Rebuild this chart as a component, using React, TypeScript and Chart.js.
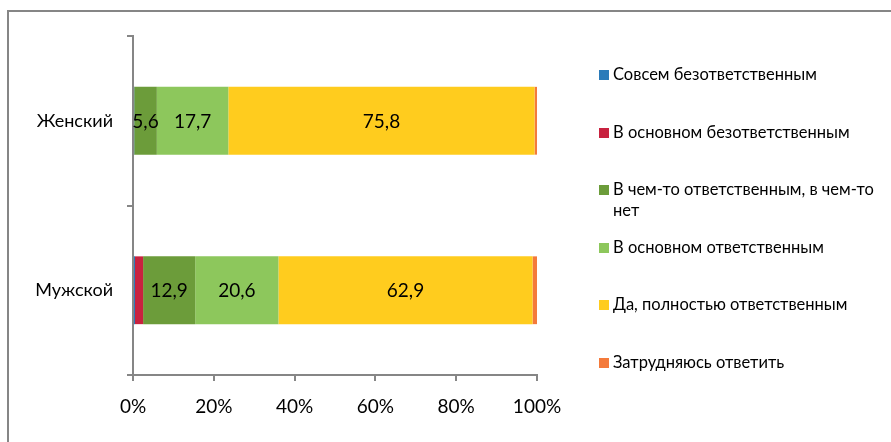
import React, { useEffect, useRef } from "react";
import { Chart, registerables } from "chart.js";

Chart.register(...registerables);

const categories = ["Женский", "Мужской"];
const seriesLabels = [
  "Совсем безответственным",
  "В основном безответственным",
  "В чем-то ответственным, в чем-то\nнет",
  "В основном ответственным",
  "Да, полностью ответственным",
  "Затрудняюсь ответить",
];
const completelyIrresponsible = [0.3, 0.5];
const mostlyIrresponsible = [0.0, 2.0];
const partlyResponsible = [5.6, 12.9];
const mostlyResponsible = [17.7, 20.6];
const fullyResponsible = [75.8, 62.9];
const hardToSay = [0.6, 1.1];
const xTicks = [0, 20, 40, 60, 80, 100];

const seriesValues = [
  completelyIrresponsible,
  mostlyIrresponsible,
  partlyResponsible,
  mostlyResponsible,
  fullyResponsible,
  hardToSay,
];
const colors = ["#2B7BB9", "#C8223F", "#6C9C3A", "#8DC75C", "#FFCC1E", "#F47A3B"];
const labeledSeries = [2, 3, 4];

const FONT = "Lato, 'Open Sans', sans-serif";

const labelPlugin = {
  id: "barLabels",
  afterDatasetsDraw(chart: any) {
    const ctx = chart.ctx;
    ctx.save();
    ctx.font = `19px ${FONT}`;
    ctx.fillStyle = "#000";
    ctx.textAlign = "center";
    ctx.textBaseline = "middle";
    labeledSeries.forEach((di) => {
      const meta = chart.getDatasetMeta(di);
      meta.data.forEach((bar: any, i: number) => {
        const v = chart.data.datasets[di].data[i];
        const x = (bar.x + bar.base) / 2;
        ctx.fillText(String(v).replace(".", ","), x, bar.y + 1);
      });
    });
    ctx.restore();
  },
};

export default function App() {
  const ref = useRef<HTMLCanvasElement>(null);
  useEffect(() => {
    document.body.style.margin = "0";
    const chart = new Chart(ref.current!, {
      type: "bar",
      data: {
        labels: categories,
        datasets: seriesValues.map((vals, i) => ({
          label: seriesLabels[i],
          data: vals,
          backgroundColor: colors[i],
          borderWidth: 0,
          barPercentage: 0.4,
          categoryPercentage: 1,
        })),
      },
      options: {
        indexAxis: "y",
        animation: false,
        responsive: false,
        events: [],
        layout: { padding: { top: 36, right: 354, bottom: 17, left: 0 } },
        plugins: { legend: { display: false }, tooltip: { enabled: false } },
        scales: {
          x: {
            stacked: true,
            min: 0,
            max: 100,
            afterBuildTicks: (s: any) => {
              s.ticks = xTicks.map((v) => ({ value: v }));
            },
            afterFit: (s: any) => {
              s.height = 50;
            },
            ticks: {
              callback: (v: any) => v + "%",
              color: "#000",
              font: { family: FONT, size: 19 },
              padding: 14,
            },
            grid: { drawOnChartArea: false, tickLength: 6, color: "#868686", lineWidth: 2 },
            border: { color: "#868686", width: 2 },
          },
          y: {
            stacked: true,
            afterFit: (s: any) => {
              s.width = 133;
            },
            ticks: {
              color: "#000",
              font: { family: FONT, size: 18 },
              padding: 14,
            },
            grid: { drawOnChartArea: false, tickLength: 6, color: "#868686", lineWidth: 2 },
            border: { color: "#868686", width: 2, z: -1 },
          },
        },
      },
      plugins: [labelPlugin],
    });
    return () => chart.destroy();
  }, []);

  return (
    <div style={{ position: "relative", width: 891, height: 442, overflow: "hidden", background: "#fff" }}>
      <canvas ref={ref} width={891} height={442} style={{ position: "absolute", left: 0, top: 0 }} />
      <div
        style={{
          position: "absolute",
          left: 7,
          top: 10,
          width: 1000,
          height: 1000,
          borderLeft: "2px solid #868686",
          borderTop: "2px solid #868686",
          pointerEvents: "none",
        }}
      />
      {seriesLabels.map((lab, i) => (
        <div
          key={i}
          style={{
            position: "absolute",
            left: 599,
            top: 75 + i * 57.6 - 11,
            display: "flex",
            alignItems: "flex-start",
            fontFamily: FONT,
            fontSize: 16.5,
            lineHeight: "21px",
            color: "#000",
            whiteSpace: "pre-line",
          }}
        >
          <span
            style={{
              display: "inline-block",
              width: 10,
              height: 10,
              background: colors[i],
              marginTop: 6,
              marginRight: 4,
              flex: "none",
            }}
          />
          <span>{lab}</span>
        </div>
      ))}
    </div>
  );
}
